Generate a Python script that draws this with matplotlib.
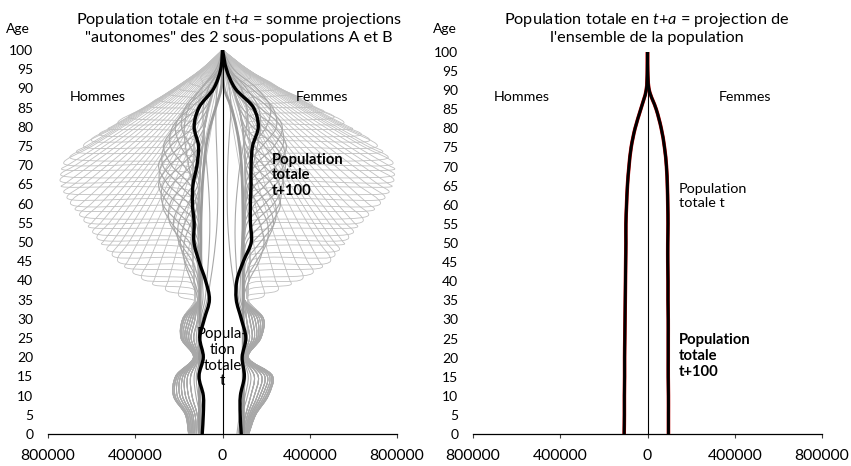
import numpy as np
import matplotlib
matplotlib.use("Agg")
import matplotlib.pyplot as plt
from matplotlib.path import Path
from matplotlib.patches import PathPatch

plt.rcParams["font.family"] = ["Lato", "DejaVu Sans"]
plt.rcParams["mathtext.fontset"] = "custom"
plt.rcParams["mathtext.it"] = "Lato:italic"
plt.rcParams["mathtext.rm"] = "Lato"

# effectifs en milliers ; grille d'ages 0, 5, ..., 100
AGES = list(range(0, 101, 5))

# bas de pyramide (ages 0 a 30) des projections t+a
BAS_H = [
    [155, 170, 225, 215, 133, 190, 182],
    [150, 165, 218, 208, 131, 186, 175],
    [145, 160, 208, 200, 129, 180, 166],
    [140, 152, 196, 192, 127, 172, 156],
    [134, 144, 184, 182, 125, 164, 146],
    [128, 136, 170, 172, 122, 155, 136],
    [120, 126, 156, 160, 118, 144, 126],
    [110, 116, 140, 146, 112, 132, 114],
]
BAS_F = [
    [120, 152, 210, 230, 118, 176, 188],
    [116, 147, 202, 224, 116, 172, 180],
    [112, 142, 193, 216, 114, 168, 170],
    [108, 136, 183, 206, 112, 162, 160],
    [104, 130, 172, 194, 110, 155, 148],
    [100, 123, 160, 180, 107, 146, 136],
    [94, 115, 146, 164, 104, 136, 124],
    [88, 106, 130, 146, 100, 124, 110],
]

# famille large : age du saut, effectif avant le saut, sommet,
# puis effectifs aux ages de la grille au-dela du saut
SAUTS = [36, 37.5, 39, 40.5, 42, 43.5, 45, 46.5, 48, 49.5, 51, 52.5, 54, 55.5, 57, 58.5,
         60, 61.5, 63, 64.5, 66, 67.5, 69, 70.5, 72, 73.5, 75, 76.5, 78, 79.5, 81, 82.5,
         84, 85.5, 87, 88.5, 90, 91.5, 93]
FOND_H = [125, 130, 135, 140, 140, 140, 140, 135, 130, 125, 115, 95, 30, 0]
FOND_F = [115, 120, 125, 130, 132, 132, 132, 130, 126, 120, 110, 90, 28, 0]
ENTREE_H = [125, 126, 128, 130, 132, 134, 135, 136, 138, 139, 140, 140, 140, 140, 140, 140,
            140, 140, 140, 140, 140, 139, 138, 136, 135, 133, 132, 130, 128, 126, 125, 122,
            120, 115, 110, 105, 100, 95, 90]
ENTREE_F = [115, 116, 118, 120, 122, 124, 125, 126, 128, 129, 130, 131, 132, 132, 132, 132,
            132, 132, 132, 132, 132, 131, 130, 129, 128, 126, 125, 122, 120, 118, 117, 114,
            112, 108, 104, 100, 95, 90, 85]
PIC_H = [200, 260, 320, 370, 410, 448, 480, 505, 530, 555, 575, 595, 615, 635, 655, 676,
         697, 713, 728, 740, 745, 742, 738, 728, 700, 670, 637, 602, 565, 525, 480, 430,
         380, 335, 290, 245, 200, 150, 100]
PIC_F = [190, 255, 315, 368, 415, 458, 495, 515, 536, 560, 578, 600, 620, 645, 670, 697,
         724, 745, 764, 778, 786, 789, 790, 782, 760, 735, 710, 675, 637, 597, 557, 512,
         465, 413, 360, 306, 252, 190, 130]
HAUT_H = [
    [185, 167, 149, 131, 114, 97, 81, 65, 50, 35, 22, 9, 0],
    [248, 223, 199, 175, 152, 130, 108, 87, 66, 47, 29, 12, 0],
    [314, 283, 252, 222, 193, 164, 137, 110, 84, 59, 37, 16, 0],
    [337, 300, 265, 230, 196, 162, 131, 100, 71, 44, 19, 0],
    [385, 343, 302, 262, 224, 186, 149, 114, 81, 50, 22, 0],
    [434, 387, 340, 296, 252, 210, 168, 129, 91, 56, 24, 0],
    [428, 377, 327, 279, 232, 186, 143, 101, 62, 27, 0],
    [466, 410, 357, 304, 252, 203, 155, 110, 68, 29, 0],
    [506, 445, 387, 330, 274, 220, 169, 119, 73, 32, 0],
    [548, 483, 420, 357, 297, 239, 183, 129, 79, 34, 0],
    [519, 451, 384, 319, 256, 196, 139, 86, 37, 0],
    [558, 484, 412, 343, 275, 211, 149, 92, 40, 0],
    [599, 520, 443, 368, 296, 226, 160, 98, 43, 0],
    [559, 476, 396, 318, 243, 172, 106, 46, 0],
    [601, 512, 426, 341, 261, 185, 114, 50, 0],
    [647, 551, 458, 368, 281, 199, 122, 53, 0],
    [594, 494, 397, 303, 215, 132, 57, 0],
    [636, 528, 424, 325, 230, 142, 61, 0],
    [681, 566, 455, 349, 246, 151, 66, 0],
    [727, 605, 485, 371, 263, 162, 70, 0],
    [641, 515, 393, 279, 171, 75, 0],
    [674, 542, 414, 293, 180, 79, 0],
    [710, 570, 436, 309, 190, 83, 0],
    [597, 456, 323, 199, 87, 0],
    [611, 467, 331, 203, 89, 0],
    [624, 478, 338, 208, 90, 0],
    [487, 345, 212, 92, 0],
    [496, 351, 216, 94, 0],
    [504, 357, 219, 95, 0],
    [510, 361, 222, 97, 0],
    [361, 222, 97, 0],
    [357, 220, 95, 0],
    [352, 216, 94, 0],
    [214, 93, 0],
    [212, 92, 0],
    [207, 90, 0],
    [87, 0],
    [79, 0],
    [67, 0],
]
HAUT_F = [
    [176, 158, 141, 124, 108, 92, 77, 62, 47, 33, 21, 9, 0],
    [243, 219, 195, 172, 149, 127, 106, 85, 65, 46, 28, 12, 0],
    [309, 278, 248, 219, 190, 162, 135, 108, 83, 59, 36, 16, 0],
    [335, 299, 263, 229, 195, 162, 130, 99, 70, 43, 19, 0],
    [389, 347, 306, 266, 226, 188, 151, 116, 82, 50, 22, 0],
    [443, 396, 348, 303, 257, 214, 172, 132, 93, 57, 25, 0],
    [442, 389, 338, 288, 239, 192, 147, 104, 64, 28, 0],
    [475, 418, 364, 310, 257, 207, 158, 112, 69, 30, 0],
    [511, 450, 391, 333, 277, 223, 170, 121, 74, 32, 0],
    [553, 488, 423, 361, 300, 241, 184, 130, 80, 35, 0],
    [522, 453, 386, 321, 258, 197, 140, 86, 38, 0],
    [562, 488, 416, 346, 278, 212, 151, 92, 40, 0],
    [604, 525, 446, 371, 298, 228, 161, 99, 43, 0],
    [568, 484, 402, 323, 247, 175, 108, 47, 0],
    [614, 523, 436, 349, 267, 190, 117, 51, 0],
    [667, 568, 472, 379, 290, 206, 126, 55, 0],
    [617, 513, 412, 315, 223, 137, 59, 0],
    [665, 552, 443, 340, 241, 148, 64, 0],
    [715, 594, 478, 366, 258, 159, 69, 0],
    [765, 636, 510, 391, 277, 170, 74, 0],
    [677, 543, 415, 295, 181, 79, 0],
    [716, 576, 440, 312, 192, 84, 0],
    [760, 610, 467, 331, 204, 88, 0],
    [641, 490, 347, 213, 93, 0],
    [663, 507, 359, 220, 97, 0],
    [685, 524, 371, 229, 99, 0],
    [543, 385, 236, 103, 0],
    [556, 394, 242, 105, 0],
    [568, 403, 247, 108, 0],
    [580, 410, 253, 110, 0],
    [419, 258, 113, 0],
    [425, 262, 114, 0],
    [431, 265, 115, 0],
    [264, 115, 0],
    [263, 114, 0],
    [259, 113, 0],
    [110, 0],
    [101, 0],
    [87, 0],
]

# famille resserree : ages 35 a 100
MILIEU_H = [
    [115, 145, 175, 175, 145, 113, 105, 100, 92, 82, 65, 40, 12, 0],
    [110, 131, 172, 193, 172, 129, 105, 100, 92, 82, 65, 40, 12, 0],
    [110, 117, 159, 201, 201, 157, 112, 100, 92, 82, 65, 40, 12, 0],
    [110, 110, 139, 196, 225, 194, 134, 100, 92, 82, 65, 40, 12, 0],
    [110, 110, 119, 180, 242, 240, 175, 109, 92, 82, 65, 40, 12, 0],
    [110, 110, 110, 152, 235, 275, 230, 142, 92, 82, 65, 40, 12, 0],
    [110, 110, 110, 122, 200, 275, 272, 190, 104, 82, 65, 40, 12, 0],
    [110, 110, 110, 110, 157, 249, 293, 241, 139, 82, 65, 40, 12, 0],
    [110, 110, 110, 110, 123, 205, 285, 280, 189, 95, 65, 40, 12, 0],
    [110, 110, 110, 110, 110, 156, 250, 293, 237, 130, 65, 40, 12, 0],
    [110, 110, 110, 110, 110, 121, 199, 274, 266, 176, 78, 40, 12, 0],
    [110, 110, 110, 110, 110, 108, 150, 234, 270, 216, 110, 40, 12, 0],
    [110, 110, 110, 110, 110, 108, 116, 179, 239, 229, 144, 51, 12, 0],
    [110, 110, 110, 110, 110, 108, 105, 134, 193, 216, 166, 74, 12, 0],
    [110, 110, 110, 110, 110, 108, 105, 108, 149, 188, 171, 97, 20, 0],
]
MILIEU_F = [
    [100, 122, 168, 190, 170, 126, 105, 104, 100, 92, 75, 48, 15, 0],
    [100, 107, 156, 204, 206, 160, 112, 104, 100, 92, 75, 48, 15, 0],
    [100, 100, 133, 199, 234, 203, 138, 104, 100, 92, 75, 48, 15, 0],
    [100, 100, 110, 174, 239, 241, 179, 114, 100, 92, 75, 48, 15, 0],
    [100, 100, 100, 141, 224, 266, 227, 145, 100, 92, 75, 48, 15, 0],
    [100, 100, 100, 111, 186, 261, 262, 188, 111, 92, 75, 48, 15, 0],
    [100, 100, 100, 100, 146, 235, 280, 235, 144, 92, 75, 48, 15, 0],
    [100, 100, 100, 100, 114, 194, 273, 272, 190, 104, 75, 48, 15, 0],
    [100, 100, 100, 100, 102, 150, 244, 289, 239, 138, 75, 48, 15, 0],
    [100, 100, 100, 100, 102, 117, 200, 281, 277, 187, 88, 48, 15, 0],
    [100, 100, 100, 100, 102, 104, 153, 249, 293, 237, 123, 48, 15, 0],
    [100, 100, 100, 100, 102, 104, 118, 199, 276, 268, 170, 61, 15, 0],
    [100, 100, 100, 100, 102, 104, 105, 150, 237, 274, 212, 94, 15, 0],
    [100, 100, 100, 100, 102, 104, 105, 115, 183, 247, 230, 131, 26, 0],
    [100, 100, 100, 100, 102, 104, 105, 104, 136, 201, 220, 157, 51, 0],
]

# projections proches de l'axe (ages 0 a 100)
AXE_H = [
    [100, 104, 122, 130, 110, 120, 108, 90, 92, 95, 100, 108, 120, 138, 155, 170, 175, 155, 98, 30, 0],
    [96, 98, 112, 120, 104, 112, 100, 80, 72, 65, 60, 58, 60, 65, 72, 80, 88, 88, 65, 20, 0],
    [92, 92, 102, 110, 95, 104, 92, 70, 55, 42, 32, 25, 22, 22, 24, 27, 30, 30, 25, 10, 0],
]
AXE_F = [
    [78, 90, 115, 130, 98, 112, 110, 82, 82, 84, 88, 95, 106, 122, 140, 160, 175, 165, 110, 35, 0],
    [72, 84, 104, 118, 95, 104, 98, 74, 68, 62, 58, 58, 62, 70, 80, 95, 110, 112, 85, 28, 0],
    [66, 78, 94, 106, 92, 96, 88, 66, 50, 38, 30, 24, 22, 22, 24, 28, 34, 38, 32, 12, 0],
]

# population totale t+100 (somme des projections autonomes)
HOMMES_T100 = [93, 88, 88, 108, 88, 104, 83, 60, 78, 108, 131, 130, 138, 135, 117, 110, 130, 108, 40, 8, 0]
FEMMES_T100 = [86, 81, 82, 100, 90, 107, 86, 63, 66, 96, 132, 128, 128, 131, 131, 138, 164, 142, 58, 18, 0]

# population totale t (stationnaire)
HOMMES_T = [107, 106, 106, 105, 105, 104, 103, 102, 101, 100, 99, 99, 96, 92, 85, 75, 57, 31, 6, 1, 0]
FEMMES_T = [96, 96, 96, 95, 95, 95, 95, 94, 94, 93, 93, 94, 93, 91, 87, 78, 63, 40, 8, 1, 0]

XTICKS = [-800000, -400000, 0, 400000, 800000]
YTICKS = list(range(0, 101, 5))
LARGEUR_SAUT = 1.5
# echelle approximative en pixels, pour le lissage centripete
PX_X = 174.5 / 800000.0
PX_Y = 3.84


def courbe(ax, ages, valeurs, signe, **kw):
    # ligne lissee : Catmull-Rom centripete converti en Bezier cubiques
    x = signe * np.array(valeurs, float) * 1000.0
    y = np.array(ages, float)
    P = np.column_stack([x * PX_X, y * PX_Y])
    ext = np.vstack([2 * P[0] - P[1], P, 2 * P[-1] - P[-2]])
    verts = [P[0]]
    codes = [Path.MOVETO]
    for i in range(len(P) - 1):
        p0, p1, p2, p3 = ext[i], ext[i + 1], ext[i + 2], ext[i + 3]
        d1 = max(np.hypot(*(p1 - p0)) ** 0.5, 1e-6)
        d2 = max(np.hypot(*(p2 - p1)) ** 0.5, 1e-6)
        d3 = max(np.hypot(*(p3 - p2)) ** 0.5, 1e-6)
        b1 = (d1 ** 2 * p2 - d2 ** 2 * p0 + (2 * d1 ** 2 + 3 * d1 * d2 + d2 ** 2) * p1) / (3 * d1 * (d1 + d2))
        b2 = (d3 ** 2 * p1 - d2 ** 2 * p3 + (2 * d3 ** 2 + 3 * d3 * d2 + d2 ** 2) * p2) / (3 * d3 * (d3 + d2))
        verts += [b1, b2, p2]
        codes += [Path.CURVE4] * 3
    verts = np.array(verts) / np.array([PX_X, PX_Y])
    ax.add_patch(PathPatch(Path(verts, codes), fill=False, capstyle="round",
                           joinstyle="round", **kw))


def famille_large(ax, bas, fond, entree, pic, haut, signe):
    for k, a in enumerate(SAUTS):
        dessous = bas[k % len(bas)] + fond
        ages = [g for g in AGES if g < a - LARGEUR_SAUT]
        vals = dessous[:len(ages)]
        ages = ages + [a - LARGEUR_SAUT, a] + [g for g in AGES if g > a]
        vals = vals + [entree[k], pic[k]] + haut[k]
        courbe(ax, ages, vals, signe, color="#c0c0c0", lw=0.6, zorder=2)


def cadre(ax):
    ax.set_xlim(-800000, 800000)
    ax.set_ylim(0, 100)
    for s in ["left", "right", "top"]:
        ax.spines[s].set_visible(False)
    ax.spines["bottom"].set_linewidth(0.9)
    ax.axvline(0, color="black", lw=0.8, zorder=6)
    ax.set_xticks(XTICKS)
    ax.set_xticklabels([f"{abs(v)}" for v in XTICKS])
    ax.set_yticks(YTICKS)
    ax.set_yticklabels([str(v) for v in YTICKS])
    ax.tick_params(axis="x", length=3, width=0.8, colors="#404040", pad=8,
                   labelsize=11.3, labelcolor="black")
    ax.tick_params(axis="y", length=0, pad=10.5, labelsize=10)


W, H = 851, 466
fig = plt.figure(figsize=(W / 100, H / 100), dpi=100)
ax1 = fig.add_axes([48 / W, 32 / H, 349 / W, 384 / H])
ax2 = fig.add_axes([473 / W, 32 / H, 349 / W, 382 / H])

# panneau gauche : projections autonomes de A et B
famille_large(ax1, BAS_H, FOND_H, ENTREE_H, PIC_H, HAUT_H, -1)
famille_large(ax1, BAS_F, FOND_F, ENTREE_F, PIC_F, HAUT_F, 1)
for k, v in enumerate(MILIEU_H):
    courbe(ax1, AGES, BAS_H[(k + 3) % 8] + v, -1, color="#a8a8a8", lw=0.8, zorder=3)
for k, v in enumerate(MILIEU_F):
    courbe(ax1, AGES, BAS_F[(k + 3) % 8] + v, 1, color="#a8a8a8", lw=0.8, zorder=3)
for v in AXE_H:
    courbe(ax1, AGES, v, -1, color="#a8a8a8", lw=0.8, zorder=3)
for v in AXE_F:
    courbe(ax1, AGES, v, 1, color="#a8a8a8", lw=0.8, zorder=3)
courbe(ax1, AGES, HOMMES_T, -1, color="#9a9a9a", lw=2.0, zorder=4)
courbe(ax1, AGES, FEMMES_T, 1, color="#9a9a9a", lw=2.0, zorder=4)
courbe(ax1, AGES, HOMMES_T100, -1, color="black", lw=2.4, zorder=5)
courbe(ax1, AGES, FEMMES_T100, 1, color="black", lw=2.4, zorder=5)
cadre(ax1)

# panneau droit : projection de l'ensemble
courbe(ax2, AGES, HOMMES_T, -1, color="#c00000", lw=2.6, zorder=4)
courbe(ax2, AGES, FEMMES_T, 1, color="#c00000", lw=2.6, zorder=4)
courbe(ax2, AGES, HOMMES_T, -1, color="black", lw=2.1, zorder=5)
courbe(ax2, AGES, FEMMES_T, 1, color="black", lw=2.1, zorder=5)
cadre(ax2)

fs = 11.7
fig.text(239 / W, 1 - 28 / H,
         "Population totale en $\\mathit{t}$+$\\mathit{a}$ = somme projections\n"
         "\"autonomes\" des 2 sous-populations A et B",
         ha="center", va="center", fontsize=fs, linespacing=1.2)
fig.text(647 / W, 1 - 28 / H,
         "Population totale en $\\mathit{t}$+$\\mathit{a}$ = projection de\n"
         "l'ensemble de la population",
         ha="center", va="center", fontsize=fs, linespacing=1.2)
fig.text(17.5 / W, 1 - 29 / H, "Age", ha="center", va="center", fontsize=10)
fig.text(445 / W, 1 - 29 / H, "Age", ha="center", va="center", fontsize=10)

ax1.text(-571000, 87.8, "Hommes", ha="center", va="center", fontsize=10.3)
ax1.text(456000, 87.8, "Femmes", ha="center", va="center", fontsize=10.3)
ax1.text(227000, 67.4, "Population\ntotale\nt+100", ha="left", va="center",
         fontsize=10.6, fontweight="bold", linespacing=1.15, zorder=7)
ax1.text(0, 19.8, "Popula-\ntion\ntotale\nt", ha="center", va="center",
         fontsize=10.8, linespacing=1.15, zorder=7)

ax2.text(-578000, 88.2, "Hommes", ha="center", va="center", fontsize=10.3)
ax2.text(447000, 88.2, "Femmes", ha="center", va="center", fontsize=10.3)
ax2.text(144000, 62.3, "Population\ntotale t", ha="left", va="center",
         fontsize=10.4, linespacing=1.25)
ax2.text(144000, 20.4, "Population\ntotale\nt+100", ha="left", va="center",
         fontsize=10.6, fontweight="bold", linespacing=1.15)

fig.savefig("out.png", dpi=100)
